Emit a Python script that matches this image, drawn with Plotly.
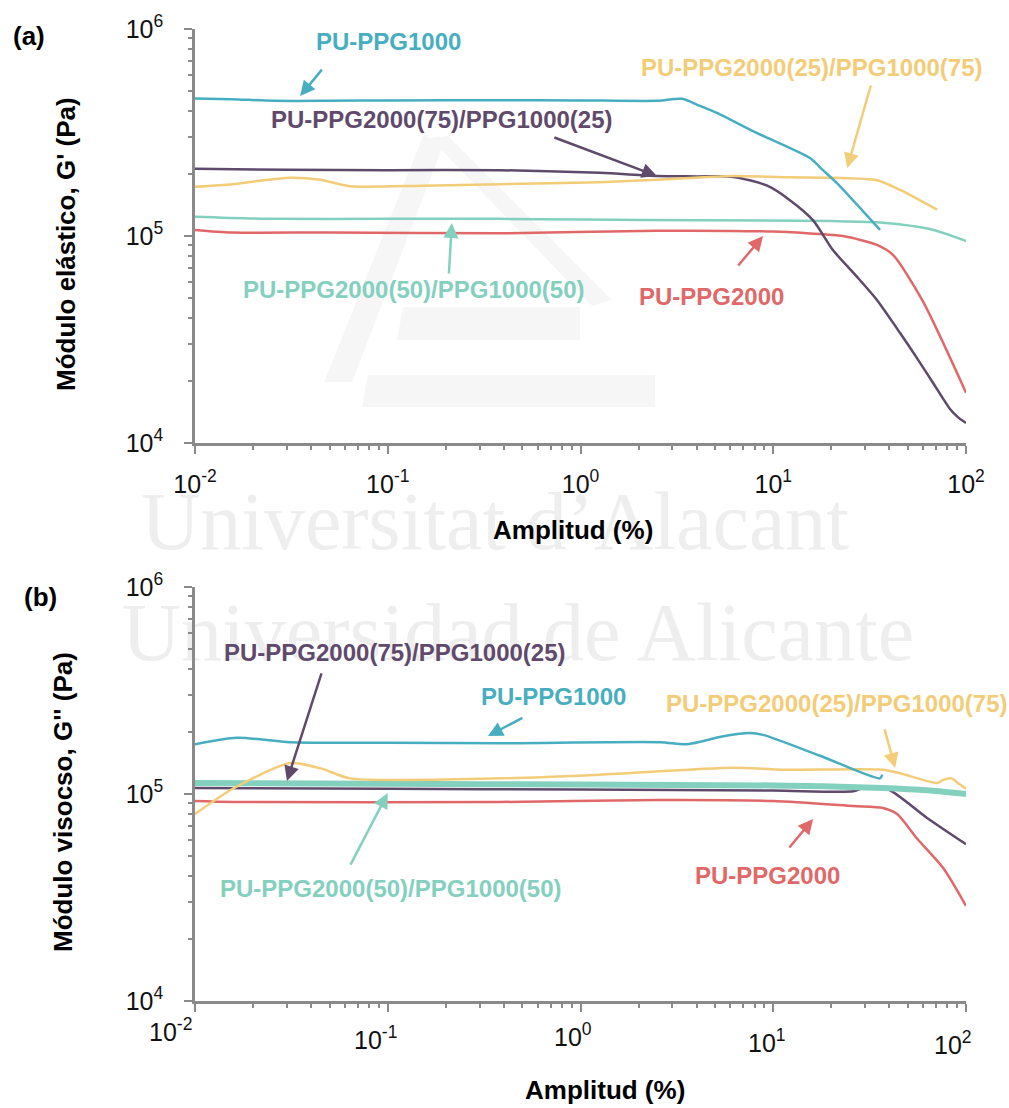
import numpy as np
import plotly.graph_objects as go

W, H = 1009, 1108

# ---------------- data: panel (a) elastic modulus G' ----------------
a_ppg1000_x = [0.01, 0.0155, 0.0254, 0.05, 0.1, 0.38, 1.0, 2.5, 3.36, 4.17, 5.1, 8.2, 15.5, 18.1, 21.4, 35.8]
a_ppg1000_y = [4.62e5, 4.58e5, 4.5e5, 4.5e5, 4.52e5, 4.53e5, 4.52e5, 4.5e5, 4.6e5, 4.25e5, 3.93e5, 3.15e5, 2.38e5, 2.08e5, 1.80e5, 1.07e5]

a_7525_x = [0.01, 0.03, 0.1, 0.38, 1.26, 2.49, 4.0, 6.2, 9.3, 12.2, 16.1, 20.4, 27, 34.5, 45.5, 56, 67.5, 82.6, 91, 100]
a_7525_y = [2.11e5, 2.09e5, 2.08e5, 2.08e5, 2.02e5, 1.95e5, 1.94e5, 1.93e5, 1.75e5, 1.49e5, 1.19e5, 8.55e4, 6.4e4, 4.91e4, 3.40e4, 2.55e4, 1.95e4, 1.46e4, 1.33e4, 1.25e4]

a_2575_x = [0.01, 0.0157, 0.0217, 0.0311, 0.0446, 0.0637, 0.15, 0.382, 1.26, 2.49, 6.18, 12, 20.4, 34.5, 45.5, 70.8]
a_2575_y = [1.73e5, 1.78e5, 1.85e5, 1.91e5, 1.87e5, 1.74e5, 1.75e5, 1.78e5, 1.82e5, 1.87e5, 1.95e5, 1.92e5, 1.91e5, 1.86e5, 1.67e5, 1.34e5]

a_5050_x = [0.01, 0.025, 0.1, 0.38, 1.0, 4.17, 20.4, 37, 65, 100]
a_5050_y = [1.24e5, 1.21e5, 1.21e5, 1.21e5, 1.2e5, 1.19e5, 1.18e5, 1.16e5, 1.08e5, 9.46e4]

a_ppg2000_x = [0.01, 0.0155, 0.05, 0.38, 2.5, 10, 15, 23, 34.5, 41.8, 59.2, 100]
a_ppg2000_y = [1.07e5, 1.04e5, 1.04e5, 1.03e5, 1.06e5, 1.05e5, 1.03e5, 1.0e5, 9.06e4, 8.1e4, 4.91e4, 1.75e4]

# ---------------- data: panel (b) viscous modulus G'' ----------------
b_ppg1000_x = [0.01, 0.0165, 0.0311, 0.1, 0.38, 2.58, 3.57, 5.5, 7.57, 8.85, 17.5, 35.8, 36.8]
b_ppg1000_y = [1.74e5, 1.87e5, 1.78e5, 1.77e5, 1.76e5, 1.78e5, 1.74e5, 1.9e5, 1.97e5, 1.93e5, 1.53e5, 1.19e5, 1.24e5]

b_7525_x = [0.01, 0.1, 1.0, 10, 26, 29.2, 38.9, 62.8, 100]
b_7525_y = [1.07e5, 1.06e5, 1.05e5, 1.04e5, 1.03e5, 1.07e5, 1.06e5, 7.66e4, 5.72e4]

b_5050_x = [0.01, 0.1, 1.0, 10, 37, 65, 100]
b_5050_y = [1.13e5, 1.12e5, 1.11e5, 1.1e5, 1.07e5, 1.04e5, 1.0e5]

b_2575_x = [0.01, 0.0157, 0.0311, 0.045, 0.0637, 0.38, 1.26, 6.18, 11.2, 37.1, 45.5, 70.8, 76, 84.6, 89.7, 100]
b_2575_y = [8.0e4, 1.06e5, 1.41e5, 1.33e5, 1.19e5, 1.19e5, 1.24e5, 1.34e5, 1.31e5, 1.31e5, 1.26e5, 1.13e5, 1.17e5, 1.19e5, 1.14e5, 1.06e5]

b_ppg2000_x = [0.01, 0.0157, 0.38, 2.5, 10, 26, 37.1, 43.9, 55.7, 76, 100]
b_ppg2000_y = [9.25e4, 9.15e4, 9.15e4, 9.35e4, 9.25e4, 8.75e4, 8.56e4, 8.0e4, 6.1e4, 4.4e4, 2.88e4]

# series names and the points their arrows point at (panel a, panel b)
names = ["PU-PPG1000", "PU-PPG2000(75)/PPG1000(25)", "PU-PPG2000(25)/PPG1000(75)",
         "PU-PPG2000(50)/PPG1000(50)", "PU-PPG2000"]
a_arrow_tips = [(0.0351, 4.74e5), (2.49, 1.95e5), (24.2, 2.13e5), (0.215, 1.156e5), (8.85, 1.0e5)]
b_arrow_tips = [(0.331, 1.905e5), (0.030, 1.156e5), (42.9, 1.337e5), (0.1, 1.01e5), (16.1, 7.57e4)]

# axis ticks
x_tickvals = [0.01, 0.1, 1, 10, 100]
x_ticktext = ["10<sup>-2</sup>", "10<sup>-1</sup>", "10<sup>0</sup>", "10<sup>1</sup>", "10<sup>2</sup>"]
y_tickvals = [1e4, 1e5, 1e6]
y_ticktext = ["10<sup>4</sup>", "10<sup>5</sup>", "10<sup>6</sup>"]

# ---------------- styling ----------------
colors = ["#47AEC1", "#5F4A6C", "#F3CC78", "#84D0BF", "#E06868"]
FONT = "Liberation Sans, Arial, Helvetica, sans-serif"
AXIS_GRAY = "#8A8A8A"


def pxx(x):
    return x / W


def pxy(y):
    return 1 - y / H


fig = go.Figure()

series_a = [(a_ppg1000_x, a_ppg1000_y), (a_7525_x, a_7525_y), (a_2575_x, a_2575_y),
            (a_5050_x, a_5050_y), (a_ppg2000_x, a_ppg2000_y)]
series_b = [(b_ppg1000_x, b_ppg1000_y), (b_7525_x, b_7525_y), (b_2575_x, b_2575_y),
            (b_5050_x, b_5050_y), (b_ppg2000_x, b_ppg2000_y)]

order_a = [4, 3, 1, 2, 0]
order_b = [4, 1, 3, 2, 0]
for i in order_a:
    xs, ys = series_a[i]
    fig.add_trace(go.Scatter(x=xs, y=ys, mode="lines", name=names[i],
                             line=dict(color=colors[i], width=2.5, shape="spline", smoothing=0.7),
                             xaxis="x", yaxis="y", showlegend=False))
for i in order_b:
    xs, ys = series_b[i]
    fig.add_trace(go.Scatter(x=xs, y=ys, mode="lines", name=names[i],
                             line=dict(color=colors[i], width=6 if i == 3 else 2.5,
                                       shape="spline", smoothing=0.7),
                             xaxis="x2", yaxis="y2", showlegend=False))

x_minor = [m * 10.0 ** e for e in range(-2, 2) for m in range(2, 10)]
y_minor = [m * 10.0 ** e for e in range(4, 6) for m in range(2, 10)]

common_axis = dict(type="log", showline=True, linecolor=AXIS_GRAY, linewidth=2.5,
                   ticks="outside", ticklen=8, tickwidth=2, tickcolor=AXIS_GRAY,
                   showgrid=False, zeroline=False, automargin=False,
                   tickfont=dict(family=FONT, size=25, color="#111111"))

x_dom = [pxx(195), pxx(966)]
xa = dict(common_axis, range=[-2, 2], domain=x_dom, tickmode="array",
          tickvals=x_tickvals, ticktext=x_ticktext, ticklabelstandoff=9,
          minor=dict(ticks="outside", ticklen=4, tickwidth=1.5, tickcolor=AXIS_GRAY,
                     tickmode="array", tickvals=x_minor, showgrid=False))
ya = dict(common_axis, range=[4, 6], tickmode="array", tickvals=y_tickvals,
          ticktext=y_ticktext, ticklabelstandoff=16,
          minor=dict(ticks="outside", ticklen=4, tickwidth=1.5, tickcolor=AXIS_GRAY,
                     tickmode="array", tickvals=y_minor, showgrid=False))

fig.update_layout(
    xaxis=dict(xa, anchor="y"),
    yaxis=dict(ya, anchor="x", domain=[pxy(443), pxy(29)]),
    xaxis2=dict(xa, anchor="y2", showticklabels=False),
    yaxis2=dict(ya, anchor="x2", domain=[pxy(1001), pxy(587)]),
)

annotations = []

# panel (b) x tick labels, placed individually
b_tick_dx = [-25, -12, -8, -6, -13]
b_tick_dy = [-29, -37, -34, -40, -42]
for v, t, dx, dy in zip(x_tickvals, x_ticktext, b_tick_dx, b_tick_dy):
    annotations.append(dict(x=np.log10(v), y=4, xref="x2", yref="y2", text=t, showarrow=False,
                            xshift=dx, yshift=dy, font=dict(family=FONT, size=25, color="#111111")))

# series labels
a_label_pos = [(388, 42), (442, 120), (812, 68), (414, 290), (711, 296)]
b_label_pos = [(553, 697), (395, 652), (837, 703), (391, 888), (767, 875)]
for pos_list in (a_label_pos, b_label_pos):
    for i, (lx, ly) in enumerate(pos_list):
        annotations.append(dict(x=pxx(lx), y=pxy(ly), xref="paper", yref="paper", text=names[i],
                                showarrow=False, xanchor="center", yanchor="middle",
                                font=dict(family=FONT, size=24, color=colors[i], weight="bold")))

# arrows (tail offsets in pixels)
a_arrow_off = [(23, -28), (-104, -39), (24, -84), (-3, 52), (-26, 31)]
b_arrow_off = [(36, -19), (35, -109), (-11, -40), (-38, 73), (-25, 30)]
for tips, offs, xr, yr in ((a_arrow_tips, a_arrow_off, "x", "y"), (b_arrow_tips, b_arrow_off, "x2", "y2")):
    for i, ((tx, ty), (ax, ay)) in enumerate(zip(tips, offs)):
        annotations.append(dict(x=np.log10(tx), y=np.log10(ty), xref=xr, yref=yr, text="",
                                showarrow=True, ax=ax, ay=ay, arrowhead=2, arrowsize=1.2,
                                arrowwidth=2.5, arrowcolor=colors[i]))

# axis titles and panel tags
title_font = dict(family=FONT, size=26, color="#000000", weight="bold")
annotations += [
    dict(x=pxx(573), y=pxy(530), text="Amplitud (%)"),
    dict(x=pxx(605), y=pxy(1090), text="Amplitud (%)"),
    dict(x=pxx(66), y=pxy(244), text="Módulo elástico, G' (Pa)", textangle=-90),
    dict(x=pxx(63), y=pxy(802), text="Módulo visocso, G'' (Pa)", textangle=-90),
    dict(x=pxx(29), y=pxy(36), text="(a)"),
    dict(x=pxx(40), y=pxy(597), text="(b)"),
]
for ann in annotations[-6:]:
    ann.update(xref="paper", yref="paper", showarrow=False, xanchor="center",
               yanchor="middle", font=title_font)

# faint institutional watermark behind the charts
WM = "#EEEEEE"
shapes = []
for text, cx, cy in (("Universitat d’Alacant", 495, 512), ("Universidad de Alicante", 518, 623)):
    shapes.append(dict(type="rect", xref="paper", yref="paper", layer="below",
                       x0=pxx(cx - 400), x1=pxx(cx + 400), y0=pxy(cy + 50), y1=pxy(cy - 50),
                       line=dict(width=0), fillcolor="rgba(0,0,0,0)",
                       label=dict(text=text, textposition="middle center",
                                  font=dict(family="Liberation Serif, Times New Roman, serif",
                                            size=82, color=WM))))


def poly(points):
    return "M " + " L ".join(f"{pxx(x):.5f},{pxy(y):.5f}" for x, y in points) + " Z"


logo = [
    [(424, 134), (442, 148), (352, 382), (324, 382)],
    [(430, 138), (448, 136), (612, 300), (592, 306)],
    [(403, 307), (580, 307), (580, 340), (397, 340)],
    [(368, 375), (655, 375), (655, 407), (362, 407)],
]
for pts in logo:
    shapes.append(dict(type="path", xref="paper", yref="paper", layer="below",
                       path=poly(pts), fillcolor="#F6F6F6", line=dict(width=0)))

fig.update_layout(
    width=W, height=H, autosize=False,
    margin=dict(l=0, r=0, t=0, b=0),
    paper_bgcolor="white", plot_bgcolor="rgba(0,0,0,0)",
    annotations=annotations, shapes=shapes,
    font=dict(family=FONT),
)

fig.write_html("out.html")
